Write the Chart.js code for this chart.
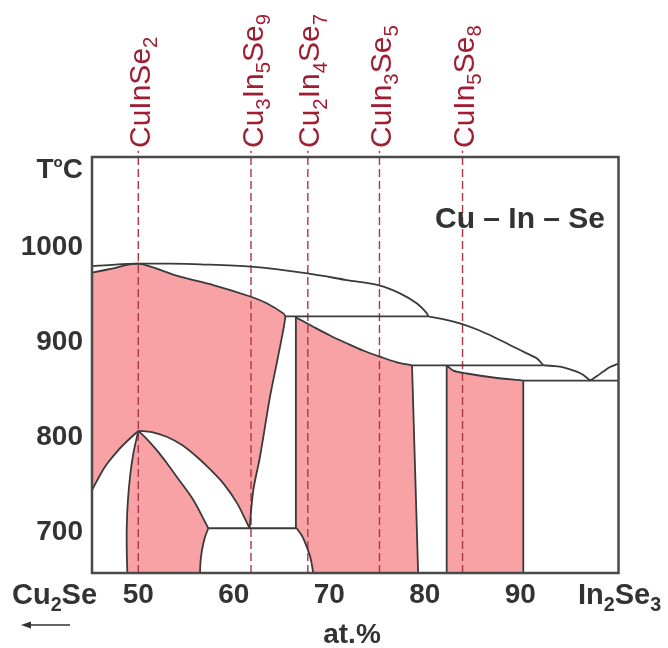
<!DOCTYPE html>
<html>
<head>
<meta charset="utf-8">
<script src="https://cdn.jsdelivr.net/npm/chart.js@4.4.0/dist/chart.umd.min.js"></script>
<style>
  html, body { margin: 0; padding: 0; background: #fff; }
  canvas { display: block; }
</style>
</head>
<body>
<canvas id="phaseChart" width="668" height="648"></canvas>
<script>
/* Cu2Se - In2Se3 section of the Cu-In-Se phase diagram */
const FONT = "'Liberation Sans', Arial, sans-serif";
const PINK = "rgb(249,162,166)";
const LINE = "#3a3a3a";
const RED = "#9e1f32";

const xTicks = [50, 60, 70, 80, 90];
const yTicks = [700, 800, 900, 1000];

// compounds (dashed lines), at.%
const compoundNames = ["CuInSe2", "Cu3In5Se9", "Cu2In4Se7", "CuIn3Se5", "CuIn5Se8"];
const compoundX = [50.0, 61.8, 67.75, 75.25, 83.95];

// phase boundaries, [at.%, T in C]
const liquidusTop = [[45.15, 980.5], [47.56, 982.1], [50.0, 983.0], [53.3, 983.0], [56.46, 982.3], [61.8, 979.8], [67.7, 972.8], [71.82, 965.8], [75.3, 960.0], [77.4, 951.8], [79.15, 941.3], [80.2, 931.0], [80.37, 927.5]];
const solidusCIS = [[45.15, 973.5], [47.38, 978.1], [50.0, 983.0], [54.37, 969.3], [57.85, 960.5], [61.8, 948.2], [63.44, 941.3], [65.18, 930.7], [65.41, 927.5]];
const edgeCIS = [[65.41, 927.5], [65.18, 913.2], [64.49, 878.1], [63.79, 843.0], [62.74, 779.8], [62.04, 744.7], [61.65, 704.5]];
const lensRight = [[50.0, 807.0], [51.43, 805.8], [52.97, 800.8], [54.58, 792.1], [56.12, 779.8], [57.5, 766.8], [58.9, 751.8], [60.34, 731.0], [61.65, 704.5]];
const lensLeft = [[50.0, 807.0], [50.8, 799.5], [51.93, 786.8], [52.9, 774.2], [54.02, 758.7], [55.76, 734.2], [57.33, 704.5]];
const solvusLeft = [[50.0, 807.0], [49.48, 783.4], [49.13, 758.7], [48.89, 730.7], [48.79, 706.1], [48.79, 681.6], [48.85, 657.4]];
const liquidusLow = [[45.15, 744.7], [46.51, 769.3], [47.91, 786.8], [48.95, 797.4], [50.0, 807.0]];
const lowLeft = [[57.33, 704.5], [56.98, 695.3], [56.67, 681.6], [56.51, 669.0], [56.46, 657.4]];
const lowRight = [[66.59, 704.5], [67.15, 696.3], [67.63, 685.1], [68.03, 673.2], [68.32, 657.4]];
const eutectoid = [[57.33, 704.5], [66.59, 704.5]];
const wall1 = [[66.5, 927.5], [66.5, 704.5]];
const peritectic1 = [[65.41, 927.5], [80.37, 927.5]];
const liquidusMid = [[80.37, 927.5], [82.12, 924.2], [83.69, 920.2], [85.47, 913.7], [87.17, 906.1], [89.27, 895.6], [90.67, 888.6], [91.72, 883.4], [92.41, 876.0]];
const solidus3 = [[66.5, 926.5], [68.32, 916.6], [70.07, 907.4], [71.82, 899.2], [73.53, 891.6], [75.31, 885.1], [76.98, 879.5], [78.66, 876.0]];
const edge3 = [[78.66, 876.0], [79.3, 657.4]];
const peritectic2 = [[78.66, 876.0], [92.41, 876.0]];
const liquidusRight = [[92.41, 876.0], [93.42, 875.3], [94.5, 873.9], [95.9, 869.3], [96.6, 865.8], [97.3, 860.0]];
const liquidusIn2Se3 = [[97.3, 860.0], [98.03, 864.7], [98.69, 869.5], [99.39, 874.2], [100.28, 877.9]];
const wall2 = [[82.29, 876.0], [82.29, 657.4]];
const solidus4 = [[82.29, 876.0], [82.98, 870.5], [84.39, 867.4], [87.17, 863.2], [90.31, 860.0]];
const wall3 = [[90.31, 860.0], [90.31, 657.4]];
const eutectic = [[90.31, 860.0], [100.28, 860.0]];

const rev = a => a.slice().reverse();
const toXY = pts => pts.map(p => ({ x: p[0], y: p[1] }));

// repeat the end points of every part so the curve keeps sharp corners there
function fillSet(parts) {
  const pts = parts.map(p => [p[0], ...p, p[p.length - 1]]).flat();
  return {
    data: toXY(pts), showLine: true, fill: 'shape',
    backgroundColor: PINK, borderColor: 'rgba(0,0,0,0)', borderWidth: 0,
    pointRadius: 0, tension: 0.3, order: 3
  };
}
function lineSet(pts) {
  return {
    data: toXY(pts), showLine: true, fill: false,
    borderColor: LINE, borderWidth: 1.8, pointRadius: 0, tension: 0.3, order: 1
  };
}

const datasets = [
  fillSet([solidusCIS, edgeCIS, rev(lensRight), rev(liquidusLow)]),
  fillSet([lensLeft, lowLeft, [[48.85, 657.4]], rev(solvusLeft)]),
  fillSet([[[66.5, 927.5]], solidus3, edge3, [[68.32, 657.4]], rev(lowRight), [[66.5, 704.5]]]),
  fillSet([solidus4, [[90.31, 657.4]], [[82.29, 657.4]]])
];

compoundX.forEach(cx => {
  datasets.push({
    data: [{ x: cx, y: 657.4 }, { x: cx, y: 1102 }], showLine: true, fill: false,
    borderColor: '#ad3544', borderWidth: 1.4, borderDash: [8, 4], pointRadius: 0, clip: false, order: 2
  });
});

[liquidusTop, solidusCIS, edgeCIS, lensRight, lensLeft, solvusLeft, liquidusLow, lowLeft, lowRight,
 eutectoid, wall1, peritectic1, liquidusMid, solidus3, edge3, peritectic2, liquidusRight,
 liquidusIn2Se3, wall2, solidus4, wall3, eutectic].forEach(c => datasets.push(lineSet(c)));

// text with digits as subscripts
function drawFormula(ctx, text, x, y, size, weight) {
  let cx = x;
  text.match(/\d+|\D+/g).forEach(p => {
    const sub = /\d/.test(p);
    ctx.font = weight + ' ' + (sub ? size * 0.68 : size) + 'px ' + FONT;
    ctx.fillText(p, cx, sub ? y + size * 0.24 : y);
    cx += ctx.measureText(p).width;
  });
}

const diagramText = {
  id: 'diagramText',
  afterDatasetsDraw(chart) {
    const { ctx, chartArea: a } = chart;
    ctx.save();
    ctx.strokeStyle = '#4a4a4a';
    ctx.lineWidth = 2.5;
    ctx.strokeRect(a.left, a.top, a.right - a.left, a.bottom - a.top);
    ctx.restore();
  },
  afterDraw(chart) {
    const { ctx, scales: { x } } = chart;
    ctx.save();
    ctx.textBaseline = 'alphabetic';
    ctx.textAlign = 'left';

    // compound names, rotated
    ctx.fillStyle = RED;
    compoundNames.forEach((name, i) => {
      ctx.save();
      ctx.translate(x.getPixelForValue(compoundX[i]) + 11.5, 148);
      ctx.rotate(-Math.PI / 2);
      drawFormula(ctx, name, 0, 0, 30, 'normal');
      ctx.restore();
    });

    ctx.fillStyle = '#333';
    // end members
    drawFormula(ctx, 'Cu2Se', 12, 604, 29, 'bold');
    drawFormula(ctx, 'In2Se3', 578, 604, 29, 'bold');

    // T°C
    ctx.font = 'bold 28px ' + FONT;
    const wT = ctx.measureText('T').width, wC = ctx.measureText('C').width;
    ctx.font = 'bold 15px ' + FONT;
    const wO = ctx.measureText('o').width;
    const tx = 83 - wT - wO - wC;
    ctx.font = 'bold 28px ' + FONT;
    ctx.fillText('T', tx, 178);
    ctx.font = 'bold 15px ' + FONT;
    ctx.fillText('o', tx + wT, 167);
    ctx.font = 'bold 28px ' + FONT;
    ctx.fillText('C', tx + wT + wO, 178);

    // system name
    ctx.font = 'bold 30px ' + FONT;
    ctx.fillText('Cu \u2013 In \u2013 Se', 435, 228);

    // axis name and arrow
    ctx.textAlign = 'center';
    ctx.font = 'bold 28px ' + FONT;
    ctx.fillText('at.%', 352, 643);
    ctx.strokeStyle = '#333';
    ctx.lineWidth = 1.5;
    ctx.beginPath();
    ctx.moveTo(70, 625);
    ctx.lineTo(28, 625);
    ctx.stroke();
    ctx.beginPath();
    ctx.moveTo(21, 625);
    ctx.lineTo(31, 621.5);
    ctx.lineTo(31, 628.5);
    ctx.closePath();
    ctx.fill();
    ctx.restore();
  }
};

const config = {
  type: 'scatter',
  data: { datasets: datasets },
  options: {
    responsive: false,
    animation: false,
    events: [],
    layout: { padding: { left: 0, top: 157, right: 49.5, bottom: 0 } },
    plugins: { legend: { display: false }, tooltip: { enabled: false } },
    scales: {
      x: {
        type: 'linear', min: 45.15, max: 100.28,
        grid: { display: false, drawTicks: false },
        border: { display: false },
        afterBuildTicks: s => { s.ticks = xTicks.map(v => ({ value: v })); },
        afterFit: s => { s.height = 75; },
        ticks: {
          autoSkip: false, maxRotation: 0, padding: 5, color: '#333',
          font: { family: FONT, size: 28, weight: 'bold' },
          callback: v => String(v)
        }
      },
      y: {
        type: 'linear', min: 657.4, max: 1095.3,
        grid: { display: false, drawTicks: false },
        border: { display: false },
        afterBuildTicks: s => { s.ticks = yTicks.map(v => ({ value: v })); },
        afterFit: s => { s.width = 92; },
        ticks: {
          padding: 9, color: '#333',
          font: { family: FONT, size: 28, weight: 'bold' },
          callback: v => String(v)
        }
      }
    }
  },
  plugins: [diagramText]
};

var phaseChart = new Chart(document.getElementById('phaseChart'), config);
</script>
</body>
</html>
